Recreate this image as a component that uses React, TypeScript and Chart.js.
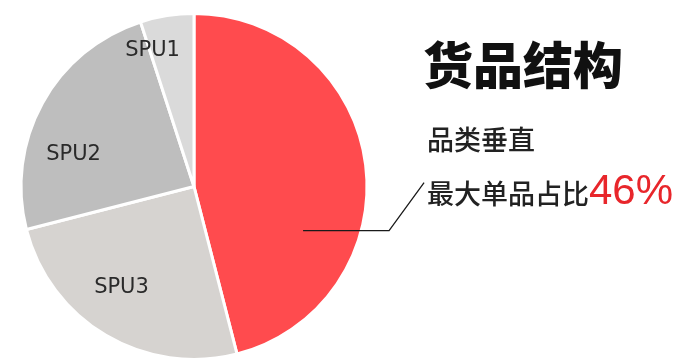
import React, { useEffect, useRef } from "react";
import { Chart, registerables } from "chart.js";

Chart.register(...registerables);

const categories = ["最大单品", "SPU3", "SPU2", "SPU1"];
const shares = [46, 25, 24, 5];
const sliceColors = ["#FF4B4E", "#D6D3D0", "#BEBEBE", "#DADADA"];
const shownLabels = [false, true, true, true];
// label placement: [radius fraction, angle shift in degrees]
const labelPlacement: [number, number][] = [
  [0, 0],
  [0.72, 5],
  [0.72, -14],
  [0.82, -8],
];

const titleText = "货品结构";
const line1 = "品类垂直";
const line2 = "最大单品占比";
const highlight = "46%";

const labelPlugin = {
  id: "sliceLabels",
  afterDatasetsDraw(chart: any) {
    const ctx = chart.ctx;
    const meta = chart.getDatasetMeta(0);
    ctx.save();
    meta.data.forEach((arc: any, i: number) => {
      const p = arc.getProps(["x", "y", "startAngle", "endAngle", "outerRadius"], true);
      if (shownLabels[i]) {
        const [frac, shift] = labelPlacement[i];
        const mid = (p.startAngle + p.endAngle) / 2 + (shift * Math.PI) / 180;
        const r = p.outerRadius * frac;
        ctx.fillStyle = "#2a2a2a";
        ctx.font = "21px 'DejaVu Sans', 'Liberation Sans', sans-serif";
        ctx.textAlign = "center";
        ctx.textBaseline = "middle";
        ctx.fillText(categories[i], p.x + Math.cos(mid) * r, p.y + Math.sin(mid) * r);
      }
      if (i === 0) {
        // leader line from the largest slice toward the annotation
        const a = (22 * Math.PI) / 180;
        const r = p.outerRadius * 0.68;
        const sx = p.x + Math.cos(a) * r;
        const sy = p.y + Math.sin(a) * r;
        ctx.strokeStyle = "#1a1a1a";
        ctx.lineWidth = 1.3;
        ctx.beginPath();
        ctx.moveTo(sx, sy);
        ctx.lineTo(sx + 86, sy);
        ctx.lineTo(sx + 121, sy - 48);
        ctx.stroke();
      }
    });
    ctx.restore();
  },
};

export default function App() {
  const ref = useRef<HTMLCanvasElement | null>(null);
  useEffect(() => {
    if (!ref.current) return;
    const chart = new Chart(ref.current, {
      type: "pie",
      data: {
        labels: categories,
        datasets: [
          {
            data: shares,
            backgroundColor: sliceColors,
            borderColor: "#ffffff",
            borderWidth: 3,
          },
        ],
      },
      options: {
        responsive: false,
        animation: false,
        layout: { padding: { left: 19, right: 318, top: 12, bottom: 1 } },
        plugins: {
          legend: { display: false },
          tooltip: { enabled: false },
        },
      },
      plugins: [labelPlugin],
    });
    return () => chart.destroy();
  }, []);

  const cjk = "'Noto Sans CJK SC', 'Noto Sans', sans-serif";
  return (
    <div
      style={{
        position: "absolute",
        left: 0,
        top: 0,
        width: 687,
        height: 362,
        background: "#ffffff",
        overflow: "hidden",
      }}
    >
      <canvas ref={ref} width={687} height={362} style={{ position: "absolute", left: 0, top: 0 }} />
      <div
        style={{
          position: "absolute",
          left: 423,
          top: 30,
          fontFamily: cjk,
          fontWeight: 900,
          fontSize: 50,
          lineHeight: "64px",
          color: "#111",
          whiteSpace: "nowrap",
        }}
      >
        {titleText}
      </div>
      <div
        style={{
          position: "absolute",
          left: 427,
          top: 119,
          fontFamily: cjk,
          fontWeight: 500,
          fontSize: 27,
          lineHeight: "40px",
          color: "#222",
          whiteSpace: "nowrap",
        }}
      >
        {line1}
      </div>
      <div
        style={{
          position: "absolute",
          left: 427,
          top: 166,
          fontFamily: cjk,
          fontWeight: 500,
          fontSize: 27,
          lineHeight: "48px",
          color: "#222",
          whiteSpace: "nowrap",
        }}
      >
        {line2}
        <span
          style={{
            fontFamily: "'Liberation Sans', Arial, sans-serif",
            fontSize: 42,
            color: "#E8262B",
          }}
        >
          {highlight}
        </span>
      </div>
    </div>
  );
}
